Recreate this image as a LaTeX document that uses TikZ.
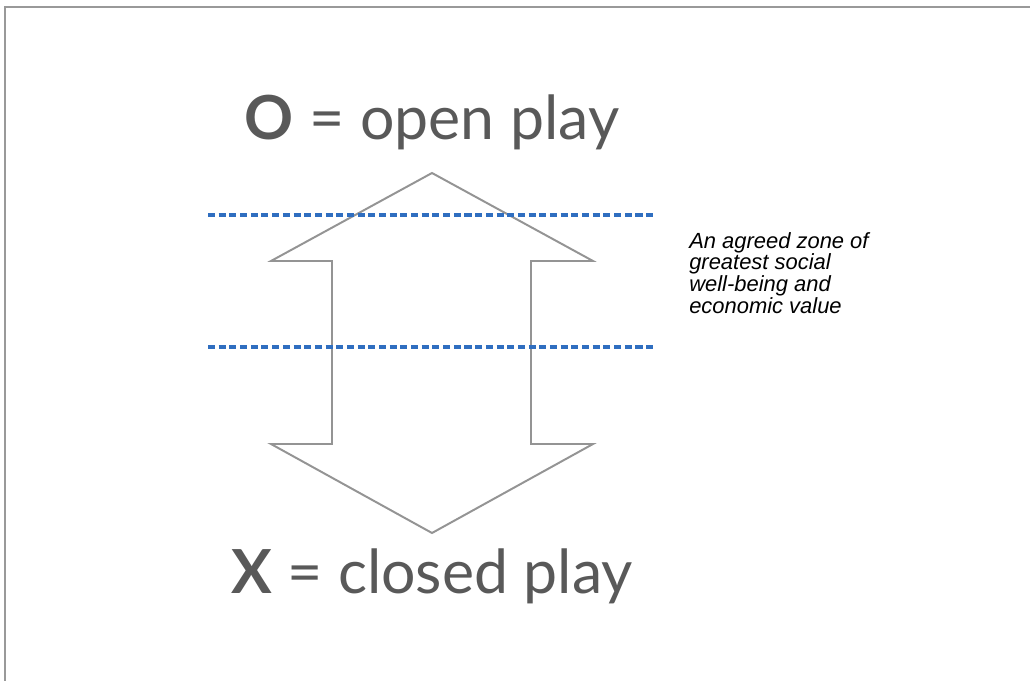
\documentclass[tikz,border=0pt]{standalone}
\usepackage{fontspec}
\setmainfont{Lato}
\newfontfamily\zonefont{Liberation Sans}
\usetikzlibrary{positioning}

\begin{document}
\begin{tikzpicture}[
    x=0.025cm, y=-0.025cm, % satu satuan = satu piksel
    frame/.style={draw=black!40, line width=1.5pt},
    arrowline/.style={draw=black!42, line width=1.4pt, line join=miter},
    zoneline/.style={draw={rgb,255:red,47;green,110;blue,192}, line width=2.5pt, dash pattern=on 5pt off 2.6pt},
    playlabel/.style={text=black!65, font=\fontsize{43.2}{47}\selectfont, inner sep=0pt, anchor=base},
    zonetext/.style={font=\zonefont\itshape\fontsize{15.6}{15.4}\selectfont, align=left, inner sep=0pt, anchor=north west}
]

% Batas gambar
\useasboundingbox (0,0) rectangle (1030,681);
\draw[frame] (5,681) -- (5,7) -- (1030,7);

% Label atas dan bawah
\node[playlabel] (openlabel) at (432,140) {{\bfseries O} = open play};
\node[playlabel] (closedlabel) at (432,593) {{\bfseries X} = closed play};

% Panah dua arah
\draw[arrowline] (432,173) -- (593,261) -- (531,261) -- (531,444) -- (593,444)
    -- (432,533) -- (271,444) -- (332,444) -- (332,261) -- (271,261) -- cycle;

% Batas zona
\draw[zoneline] (208,215) -- (656,215);
\draw[zoneline] (208,347) -- (656,347);

% Keterangan zona
\node[zonetext] (zonenote) at (689,232) {An agreed zone of\\greatest social\\well-being and\\economic value};

\end{tikzpicture}
\end{document}
